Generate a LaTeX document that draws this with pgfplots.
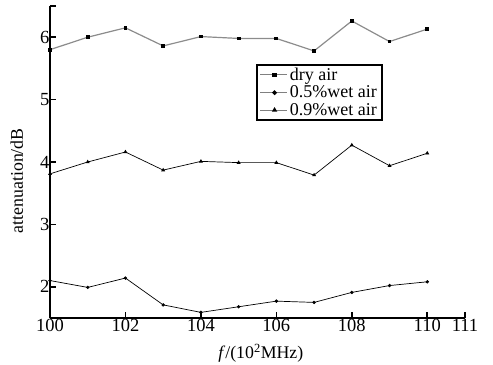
\documentclass[border=0pt]{standalone}
\usepackage{pgfplots}
\pgfplotsset{compat=1.18}
\usepackage{fontspec}
\setmainfont{Liberation Serif}
\begin{document}
\begin{tikzpicture}
\begin{axis}[name=ax,
  scale only axis, width=415pt, height=312pt,
  xmin=100, xmax=111, ymin=1.5, ymax=6.5,
  axis x line=bottom, axis y line=left,
  axis line style={line width=1.6pt,-},
  xtick={100,102,104,106,108,110,111},
  ytick={2,3,4,5,6},
  extra y ticks={6.5}, extra y tick labels={},
  extra y tick style={tick style={line width=1.6pt}},
  tick style={line width=1.6pt,black},
  major tick length=6pt,
  tick align=inside,
  /pgf/number format/assume math mode=true,
  ticklabel style={font=\fontsize{18.5}{20}\selectfont},
  xticklabel style={yshift=2pt},
  yticklabel style={xshift=3pt},
  xlabel={\textit{f}/(10\textsuperscript{2}MHz)},
  ylabel={attenuation/dB},
  label style={font=\fontsize{17.8}{19}\selectfont},
  xlabel style={at={(axis description cs:0.508,-0.113)}, anchor=center},
  ylabel style={at={(axis description cs:-0.08,0.44)}, anchor=center},
  legend style={at={(axis cs:105.46,5.57)}, anchor=north west,
    draw=black, line width=1.8pt, font=\fontsize{18}{17}\selectfont,
    row sep=0pt, inner xsep=3pt, inner ysep=1pt},
  legend cell align=left,
  legend image code/.code={\draw[gray,line width=0.9pt] (0cm,0cm) -- (0.95cm,0cm);
     \draw[black,mark size=1.3pt,#1] plot coordinates {(0.5cm,0cm)};},
]
\addlegendimage{only marks, mark=square*}
\addlegendentry{dry air}
\addlegendimage{only marks, mark=*}
\addlegendentry{0.5\%wet air}
\addlegendimage{only marks, mark=triangle*}
\addlegendentry{0.9\%wet air}
\addplot[forget plot, gray!90, line width=1.2pt, mark=square*, mark size=1.3pt,
  mark options={black,fill=black}] coordinates {
(100,5.80) (101,6.00) (102,6.15) (103,5.86) (104,6.01) (105,5.98)
(106,5.98) (107,5.78) (108,6.26) (109,5.93) (110,6.13)};
\addplot[forget plot, black, line width=0.7pt, mark=triangle*, mark size=1.6pt,
  mark options={black,fill=black}] coordinates {
(100,3.81) (101,4.00) (102,4.16) (103,3.87) (104,4.01) (105,3.99)
(106,3.99) (107,3.79) (108,4.27) (109,3.94) (110,4.14)};
\addplot[forget plot, black, line width=0.7pt, mark=*, mark size=1.3pt,
  mark options={black,fill=black}] coordinates {
(100,2.10) (101,1.99) (102,2.14) (103,1.71) (104,1.59) (105,1.68)
(106,1.77) (107,1.75) (108,1.91) (109,2.02) (110,2.08)};
\end{axis}
\pgfresetboundingbox
\path[use as bounding box] ([xshift=-50pt,yshift=-47pt]ax.south west) rectangle ([xshift=28pt,yshift=6pt]ax.north east);
\end{tikzpicture}
\end{document}
